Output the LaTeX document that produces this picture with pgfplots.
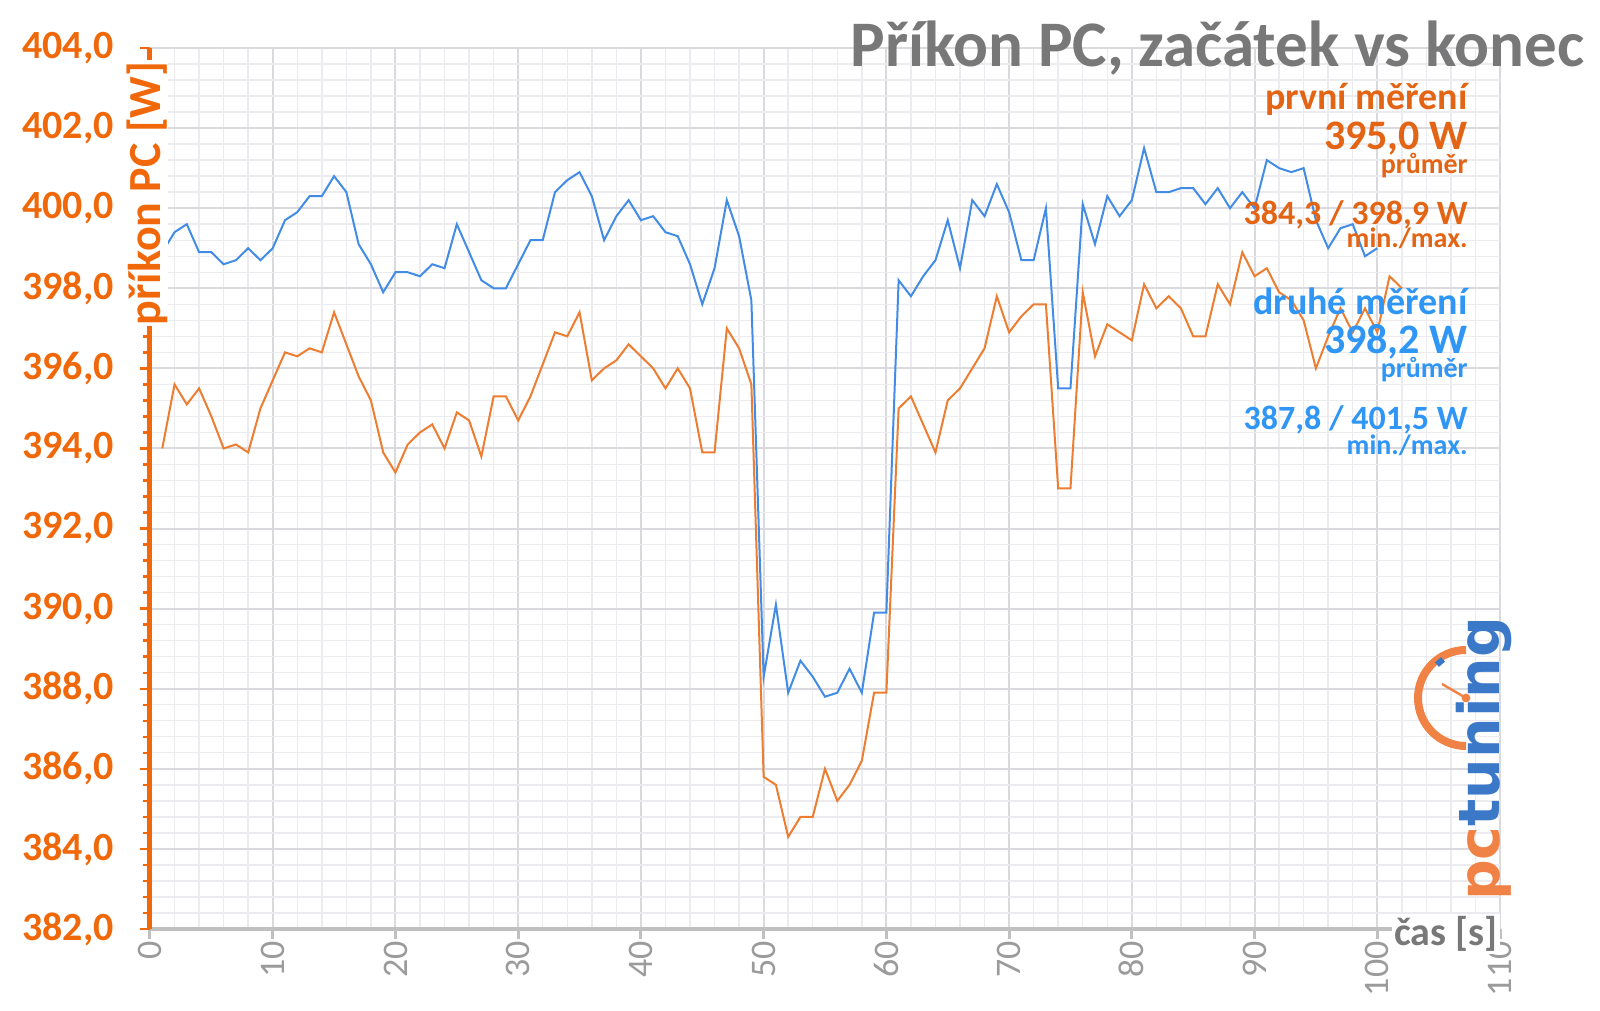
\documentclass[border=0pt]{standalone}
\usepackage{pgfplots}
\pgfplotsset{compat=1.18}
\usepackage{fontspec}
\setmainfont{Carlito}
\newfontfamily\logofont{DejaVu Sans}
\definecolor{oline}{RGB}{237,125,49}
\definecolor{bline}{RGB}{66,140,230}
\definecolor{otext}{RGB}{240,104,10}
\definecolor{oannot}{RGB}{226,100,20}
\definecolor{btext}{RGB}{48,150,245}
\definecolor{titlegray}{RGB}{120,120,120}
\definecolor{tickgray}{RGB}{155,155,155}
\definecolor{axisgray}{RGB}{192,192,192}
\definecolor{gridmajor}{RGB}{218,218,222}
\definecolor{gridminor}{RGB}{236,236,240}
\definecolor{logoblue}{RGB}{60,120,200}
\definecolor{logoorange}{RGB}{240,130,70}
\begin{document}
\begin{tikzpicture}
\useasboundingbox (0,0) rectangle (800pt,505.5pt);
\begin{axis}[
  at={(75pt,41pt)}, anchor=south west,
  scale only axis, width=675pt, height=440.5pt,
  xmin=0, xmax=110, ymin=382, ymax=404,
  xtick={0,10,...,110}, ytick={382,384,...,404},
  minor x tick num=4, minor y tick num=4,
  grid=both,
  major grid style={draw=gridmajor, line width=1pt},
  minor grid style={draw=gridminor, line width=0.7pt},
  axis x line*=bottom, axis y line*=left,
  x axis line style={axisgray, line width=2pt},
  y axis line style={otext, line width=2.5pt},
  tick align=outside,
  major tick length=5pt, minor tick length=3.5pt,
  x tick style={axisgray, line width=1.5pt},
  minor x tick style={draw=none},
  y tick style={otext, line width=1.2pt},
  /pgf/number format/assume math mode=true,
  xticklabel style={rotate=90, anchor=east, inner sep=1pt, font=\fontsize{18}{20}\selectfont, text=tickgray},
  yticklabel style={inner sep=0pt, xshift=-13pt, font=\bfseries\fontsize{20}{24}\selectfont, text=otext,
    /pgf/number format/.cd, fixed, fixed zerofill, precision=1, use comma, 1000 sep={}},
]
\addplot[oline, line width=1pt] coordinates {
(1,394.0)(2,395.6)(3,395.1)(4,395.5)(5,394.8)(6,394.0)(7,394.1)(8,393.9)(9,395.0)(10,395.7)
(11,396.4)(12,396.3)(13,396.5)(14,396.4)(15,397.4)(16,396.6)(17,395.8)(18,395.2)(19,393.9)(20,393.4)
(21,394.1)(22,394.4)(23,394.6)(24,394.0)(25,394.9)(26,394.7)(27,393.8)(28,395.3)(29,395.3)(30,394.7)
(31,395.3)(32,396.1)(33,396.9)(34,396.8)(35,397.4)(36,395.7)(37,396.0)(38,396.2)(39,396.6)(40,396.3)
(41,396.0)(42,395.5)(43,396.0)(44,395.5)(45,393.9)(46,393.9)(47,397.0)(48,396.5)(49,395.6)(50,385.8)
(51,385.6)(52,384.3)(53,384.8)(54,384.8)(55,386.0)(56,385.2)(57,385.6)(58,386.2)(59,387.9)(60,387.9)
(61,395.0)(62,395.3)(63,394.6)(64,393.9)(65,395.2)(66,395.5)(67,396.0)(68,396.5)(69,397.8)(70,396.9)
(71,397.3)(72,397.6)(73,397.6)(74,393.0)(75,393.0)(76,397.9)(77,396.3)(78,397.1)(79,396.9)(80,396.7)
(81,398.1)(82,397.5)(83,397.8)(84,397.5)(85,396.8)(86,396.8)(87,398.1)(88,397.6)(89,398.9)(90,398.3)
(91,398.5)(92,397.9)(93,397.7)(94,397.2)(95,396.0)(96,396.8)(97,397.5)(98,396.9)(99,397.5)(100,396.9)
(101,398.3)(102,398.0)
};
\addplot[bline, line width=1pt] coordinates {
(1,398.9)(2,399.4)(3,399.6)(4,398.9)(5,398.9)(6,398.6)(7,398.7)(8,399.0)(9,398.7)(10,399.0)
(11,399.7)(12,399.9)(13,400.3)(14,400.3)(15,400.8)(16,400.4)(17,399.1)(18,398.6)(19,397.9)(20,398.4)
(21,398.4)(22,398.3)(23,398.6)(24,398.5)(25,399.6)(26,398.9)(27,398.2)(28,398.0)(29,398.0)(30,398.6)
(31,399.2)(32,399.2)(33,400.4)(34,400.7)(35,400.9)(36,400.3)(37,399.2)(38,399.8)(39,400.2)(40,399.7)
(41,399.8)(42,399.4)(43,399.3)(44,398.6)(45,397.6)(46,398.5)(47,400.2)(48,399.3)(49,397.7)(50,388.3)
(51,390.1)(52,387.9)(53,388.7)(54,388.3)(55,387.8)(56,387.9)(57,388.5)(58,387.9)(59,389.9)(60,389.9)
(61,398.2)(62,397.8)(63,398.3)(64,398.7)(65,399.7)(66,398.5)(67,400.2)(68,399.8)(69,400.6)(70,399.9)
(71,398.7)(72,398.7)(73,400.0)(74,395.5)(75,395.5)(76,400.1)(77,399.1)(78,400.3)(79,399.8)(80,400.2)
(81,401.5)(82,400.4)(83,400.4)(84,400.5)(85,400.5)(86,400.1)(87,400.5)(88,400.0)(89,400.4)(90,400.0)
(91,401.2)(92,401.0)(93,400.9)(94,401.0)(95,399.7)(96,399.0)(97,399.5)(98,399.6)(99,398.8)(100,399.0)
};
\end{axis}
% axis titles
\node[rotate=90, anchor=east, fill=white, inner sep=0.5pt, text=otext, font=\bfseries\fontsize{23}{26}\selectfont] at (73.5pt,475.5pt) {příkon PC [W]};
\node[anchor=east, fill=white, inner sep=1pt, text=titlegray, font=\bfseries\fontsize{20}{24}\selectfont] at (750pt,38.5pt) {čas [s]};
% title
\node[anchor=base east, inner sep=0pt, text=titlegray, font=\bfseries\fontsize{32.5}{36}\selectfont] at (792.5pt,472pt) {Příkon PC, začátek vs konec};
% annotations
\begin{scope}[every node/.style={anchor=base east, inner sep=0pt, font=\bfseries}]
\node[text=oannot, font=\bfseries\fontsize{19}{22}\selectfont] at (734pt,450.5pt) {první měření};
\node[text=oannot, font=\bfseries\fontsize{21}{24}\selectfont] at (734pt,430.5pt) {395,0 W};
\node[text=oannot, font=\bfseries\fontsize{14}{16}\selectfont] at (734pt,418.5pt) {průměr};
\node[text=oannot, font=\bfseries\fontsize{17}{20}\selectfont] at (734pt,393pt) {384,3 / 398,9 W};
\node[text=oannot, font=\bfseries\fontsize{14}{16}\selectfont] at (734pt,381.5pt) {min./max.};
\node[text=btext, font=\bfseries\fontsize{19}{22}\selectfont] at (734pt,348pt) {druhé měření};
\node[text=btext, font=\bfseries\fontsize{21}{24}\selectfont] at (734pt,328.5pt) {398,2 W};
\node[text=btext, font=\bfseries\fontsize{14}{16}\selectfont] at (734pt,316.5pt) {průměr};
\node[text=btext, font=\bfseries\fontsize{17}{20}\selectfont] at (734pt,290.5pt) {387,8 / 401,5 W};
\node[text=btext, font=\bfseries\fontsize{14}{16}\selectfont] at (734pt,278pt) {min./max.};
\end{scope}
% logo
\draw[logoorange, line width=4pt] (733pt,180.5pt) arc (90:270:24pt);
\draw[logoorange, line width=1.2pt] (733pt,156.5pt) -- (721pt,163.5pt);
\fill[logoorange] (733pt,156.5pt) circle (2.2pt);
\fill[logoblue, rotate around={40:(720pt,174.5pt)}] (718pt,173pt) rectangle (722pt,176pt);
\node[rotate=90, inner sep=0pt, font=\logofont\bfseries\fontsize{28.5}{30}\selectfont] at (742pt,126pt) {\textcolor{logoorange}{pc}\textcolor{logoblue}{tuning}};
\end{tikzpicture}
\end{document}
